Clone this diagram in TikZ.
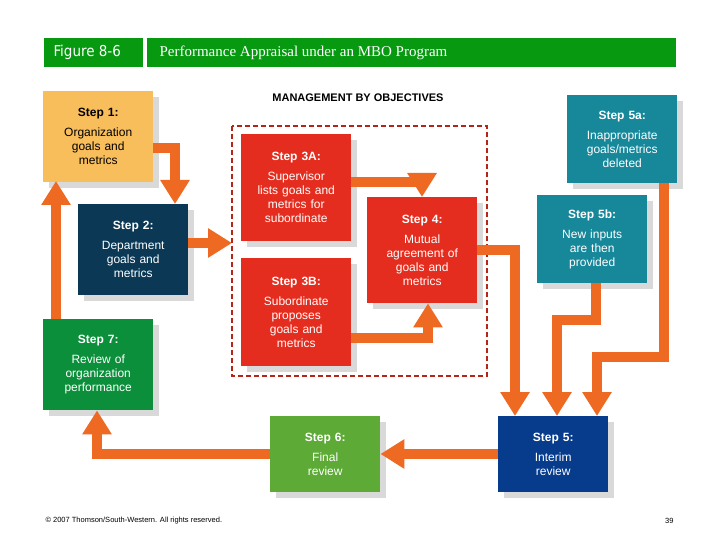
\documentclass[tikz,border=0pt]{standalone}
\usepackage{fontspec}
\setmainfont{Liberation Sans}
\newfontfamily\serif{Liberation Serif}
\newfontfamily\narrow{DejaVu Sans Condensed}
\usetikzlibrary{arrows.meta,shadows}
\definecolor{oa}{HTML}{EE6A22}
\definecolor{yel}{HTML}{F9BE5C}
\definecolor{navy}{HTML}{0A3855}
\definecolor{grn}{HTML}{0B8F3A}
\definecolor{rd}{HTML}{E42D1E}
\definecolor{teal}{HTML}{17879A}
\definecolor{blu}{HTML}{073B8C}
\definecolor{lgr}{HTML}{5DAA36}
\definecolor{hdr}{HTML}{079A10}
\begin{document}
\begin{tikzpicture}[x=1pt,y=-1pt,
  box/.style={draw=none,minimum width=110pt,minimum height=#1,inner sep=2pt,align=center,text width=104pt,
    font=\fontsize{12}{14}\selectfont,drop shadow={shadow xshift=6pt,shadow yshift=-6pt,fill=black!15,opacity=1}},
  box/.default=91pt,
  arr/.style={oa,line width=10pt,-{Triangle[length=24pt,width=28pt]}}]
\useasboundingbox (0,0) rectangle (720,540);
\fill[white] (0,0) rectangle (720,540);
\fill[hdr] (44,38) rectangle (143,67);
\fill[hdr] (147,38) rectangle (676,67);
\node[white,anchor=west,font=\narrow\fontsize{15}{15}\selectfont] (fig) at (50,52) {Figure 8-6};
\node[white,anchor=west,font=\serif\fontsize{15}{15}\selectfont] (ttl) at (156,53) {Performance Appraisal under an MBO Program};
\node[font=\bfseries\fontsize{11}{11}\selectfont] (mbo) at (358,98) {MANAGEMENT BY OBJECTIVES};
\draw[rd!80!black,line width=2pt,dash pattern=on 5pt off 3pt] (232,126) rectangle (487,376);

\node[box,fill=yel,anchor=north west] (s1) at (43,91) {\textbf{Step 1:}\\[6pt]Organization\\goals and\\metrics};
\node[box,fill=navy,text=white,anchor=north west] (s2) at (78,204) {\textbf{Step 2:}\\[6pt]Department\\goals and\\metrics};
\node[box,fill=grn,text=white,anchor=north west] (s7) at (43,319) {\textbf{Step 7:}\\[6pt]Review of\\organization\\performance};
\node[box=107pt,fill=rd,text=white,anchor=north west] (s3a) at (241,134) {\textbf{Step 3A:}\\[6pt]Supervisor\\lists goals and\\metrics for\\subordinate};
\node[box=108pt,fill=rd,text=white,anchor=north west] (s3b) at (241,258) {\textbf{Step 3B:}\\[6pt]Subordinate\\proposes\\goals and\\metrics};
\node[box=106pt,fill=rd,text=white,anchor=north west] (s4) at (367,197) {\textbf{Step 4:}\\[6pt]Mutual\\agreement of\\goals and\\metrics};
\node[box=88pt,fill=teal,text=white,anchor=north west] (s5a) at (567,95) {\textbf{Step 5a:}\\[6pt]Inappropriate\\goals/metrics\\deleted};
\node[box=88pt,fill=teal,text=white,anchor=north west] (s5b) at (537,195) {\textbf{Step 5b:}\\[6pt]New inputs\\are then\\provided};
\node[box=76pt,fill=blu,text=white,anchor=north west] (s5) at (498,416) {\textbf{Step 5:}\\[6pt]Interim\\review};
\node[box=76pt,fill=lgr,text=white,anchor=north west] (s6) at (270,416) {\textbf{Step 6:}\\[6pt]Final\\review};

\coordinate (c1) at (175,148);
\coordinate (c2) at (232,243);
\coordinate (c3) at (422,182);
\coordinate (c4) at (428,338);
\coordinate (c5) at (515,250);
\coordinate (c6a) at (596,320);
\coordinate (c6b) at (557,320);
\coordinate (c7a) at (664,357);
\coordinate (c7b) at (597,357);
\coordinate (c8) at (97,454);

\draw[arr] (s1.east|-c1) -- (c1) -- (c1|-s2.north);
\draw[arr] (s2.east|-c2) -- (c2);
\draw[arr] (s3a.east|-c3) -- (c3) -- (c3|-s4.north);
\draw[arr] (s3b.east|-c4) -- (c4) -- (c4|-s4.south);
\draw[arr] (s4.east|-c5) -- (c5) -- (c5|-s5.north);
\draw[arr] (c6a|-s5b.south) -- (c6a) -- (c6b) -- (c6b|-s5.north);
\draw[arr] (c7a|-s5a.south) -- (c7a) -- (c7b) -- (c7b|-s5.north);
\draw[arr] (s5.west|-c8) -- (s6.east|-c8);
\draw[arr] (s6.west|-c8) -- (c8) -- (c8|-s7.south);
\draw[arr] (56,319) -- (56,181);

\node[anchor=west,font=\fontsize{7.5}{8}\selectfont] (cp) at (42,521) {\textcopyright{} 2007 Thomson/South-Western. All rights reserved.};
\node[anchor=east,font=\fontsize{7.5}{8}\selectfont] (pg) at (677,521) {39};
\end{tikzpicture}
\end{document}
